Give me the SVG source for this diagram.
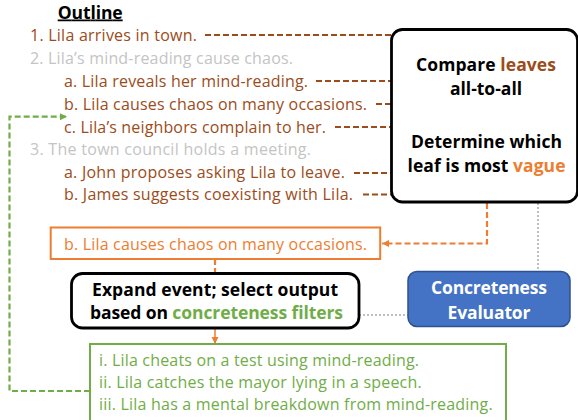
<svg xmlns="http://www.w3.org/2000/svg" width="578" height="420" viewBox="0 0 578 420">
<defs>
<style>
.t{font-family:"Open Sans","Liberation Sans",sans-serif;font-size:16px}
.b{font-family:"Open Sans","Liberation Sans",sans-serif;font-size:17.5px;font-weight:bold}
.brown{fill:#9c4c1a}
.gray{fill:#c4c4c4}
.orange{fill:#ed7d31}
.green{fill:#70ad47}
.black{fill:#000}
.white{fill:#fff}
.dbrown{fill:none;stroke:#9c4c1a;stroke-width:2.2;stroke-dasharray:6 3}
.dorange{fill:none;stroke:#ed7d31;stroke-width:2.2;stroke-dasharray:6 3}
.dgreen{fill:none;stroke:#70ad47;stroke-width:2.2;stroke-dasharray:6 3}
.dot{fill:none;stroke:#bfbfbf;stroke-width:2;stroke-dasharray:2 2}
</style>
<marker id="ao" markerUnits="userSpaceOnUse" markerWidth="8" markerHeight="8" refX="7" refY="4" orient="auto"><path d="M0,0.5 L7,4 L0,7.5 Z" fill="#ed7d31"/></marker>
<marker id="ag" markerUnits="userSpaceOnUse" markerWidth="8" markerHeight="8" refX="7" refY="4" orient="auto"><path d="M0,0.5 L7,4 L0,7.5 Z" fill="#70ad47"/></marker>
</defs>
<rect width="578" height="420" fill="#fff"/>

<g id="connectors">
<path class="dbrown" d="M205,35 H391"/>
<path class="dbrown" d="M316,81 H391"/>
<path class="dbrown" d="M376,104 H391"/>
<path class="dbrown" d="M335,127 H391"/>
<path class="dbrown" d="M354,173 H391"/>
<path class="dbrown" d="M363,194.5 H391"/>
<path class="dorange" d="M487,203 V243.5 H382" marker-end="url(#ao)"/>
<path class="dorange" d="M215,259 V273"/>
<path d="M215,329 V344" fill="none" stroke="#ed7d31" stroke-width="1.5" marker-end="url(#ao)"/>
<path class="dgreen" d="M90,391 H9.5 V116.7 H67" marker-end="url(#ag)"/>
<path class="dot" d="M538,203 V271"/>
<path class="dot" d="M347,315 H408"/>
</g>

<g id="outline">
<text class="b black" x="57.7" y="18.5" text-decoration="underline" textLength="65">Outline</text>
<text id="o1" class="t brown" x="30" y="41" textLength="167">1. Lila arrives in town.</text>
<text id="o2" class="t gray" x="30" y="64" textLength="263">2. Lila’s mind-reading cause chaos.</text>
<text id="o2a" class="t brown" x="64" y="87" textLength="244">a. Lila reveals her mind-reading.</text>
<text id="o2b" class="t brown" x="64" y="109.5" textLength="303">b. Lila causes chaos on many occasions.</text>
<text id="o2c" class="t brown" x="64" y="132.5" textLength="262">c. Lila’s neighbors complain to her.</text>
<text id="o3" class="t gray" x="30" y="155" textLength="281">3. The town council holds a meeting.</text>
<text id="o3a" class="t brown" x="64" y="178" textLength="281">a. John proposes asking Lila to leave.</text>
<text id="o3b" class="t brown" x="64" y="200" textLength="289">b. James suggests coexisting with Lila.</text>
</g>

<g id="compare">
<rect x="391.5" y="29.5" width="186" height="172.5" rx="11" fill="#fff" stroke="#000" stroke-width="2.8"/>
<text class="b black" x="486" y="70.5" text-anchor="middle" textLength="140">Compare <tspan class="brown">leaves</tspan></text>
<text class="b black" x="486" y="95" text-anchor="middle">all-to-all</text>
<text class="b black" x="486.5" y="148" text-anchor="middle" textLength="151">Determine which</text>
<text class="b black" x="486.5" y="172" text-anchor="middle" textLength="158">leaf is most <tspan class="orange">vague</tspan></text>
</g>

<g id="selected">
<rect x="50.7" y="227.5" width="329.5" height="31.5" fill="#fff" stroke="#ed7d31" stroke-width="2"/>
<text class="t orange" x="64" y="250" textLength="303">b. Lila causes chaos on many occasions.</text>
</g>

<g id="expand">
<rect x="71.5" y="273.5" width="287.5" height="54.5" rx="11" fill="#fff" stroke="#000" stroke-width="2.8"/>
<text class="b black" x="92" y="295.5" textLength="246">Expand event; select output</text>
<text class="b black" x="90" y="318.5" textLength="253">based on <tspan class="green">concreteness filters</tspan></text>
</g>

<g id="evaluator">
<rect x="408" y="271.5" width="162" height="55" rx="9" fill="#4472c4" stroke="#2f528f" stroke-width="1.5"/>
<text class="b white" x="489" y="293.5" text-anchor="middle" textLength="116">Concreteness</text>
<text class="b white" x="489" y="318.5" text-anchor="middle" textLength="83">Evaluator</text>
</g>

<g id="outputs">
<rect x="90" y="344" width="416" height="90" fill="#fff" stroke="#70ad47" stroke-width="2"/>
<text class="t green" x="99" y="366" textLength="320">i. Lila cheats on a test using mind-reading.</text>
<text class="t green" x="99" y="388" textLength="322.7">ii. Lila catches the mayor lying in a speech.</text>
<text class="t green" x="99" y="409.5" textLength="393.7">iii. Lila has a mental breakdown from mind-reading.</text>
</g>
</svg>
